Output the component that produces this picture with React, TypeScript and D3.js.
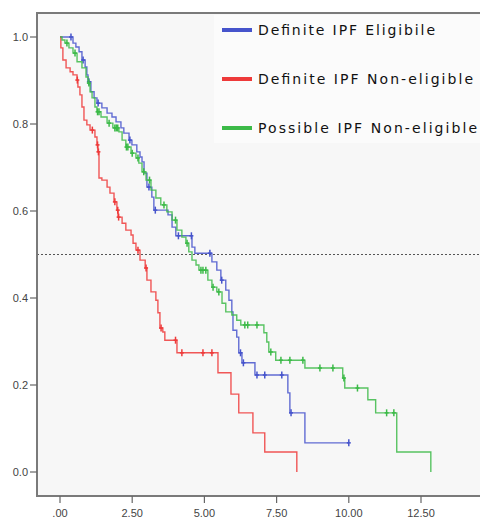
import { useEffect, useRef } from 'react';
import * as d3 from 'd3';

// survival steps: [time, survival after drop]
const redSteps: [number, number][] = [
  [0, 1], [0.03, 0.975], [0.10, 0.947], [0.21, 0.929], [0.35, 0.92], [0.45, 0.913],
  [0.59, 0.901], [0.62, 0.885], [0.69, 0.867], [0.76, 0.839], [0.83, 0.809],
  [0.93, 0.798], [1.04, 0.786], [1.21, 0.77], [1.28, 0.752], [1.31, 0.736],
  [1.35, 0.676], [1.45, 0.671], [1.63, 0.655], [1.73, 0.641], [1.87, 0.621],
  [1.97, 0.602], [2.01, 0.586], [2.15, 0.572], [2.28, 0.556], [2.46, 0.545],
  [2.53, 0.526], [2.63, 0.51], [2.77, 0.487], [2.95, 0.469], [3.01, 0.441],
  [3.15, 0.414], [3.32, 0.395], [3.39, 0.366], [3.46, 0.331], [3.56, 0.322],
  [3.63, 0.303], [4.05, 0.274], [5.47, 0.228], [5.92, 0.179], [6.19, 0.136],
  [6.68, 0.09], [7.09, 0.046], [8.2, 0],
];
const redCensored = [0.6, 1.12, 1.3, 1.33, 1.9, 2.0, 2.03, 2.7, 2.98, 3.5, 4.0, 4.22, 4.95, 5.26];

const blueSteps: [number, number][] = [
  [0, 1], [0.45, 0.986], [0.55, 0.977], [0.66, 0.966], [0.76, 0.947], [0.87, 0.931],
  [0.93, 0.913], [0.97, 0.897], [1.07, 0.874], [1.18, 0.86], [1.28, 0.848],
  [1.45, 0.837], [1.63, 0.825], [1.8, 0.816], [1.94, 0.805], [2.11, 0.791],
  [2.21, 0.779], [2.39, 0.763], [2.49, 0.752], [2.66, 0.736], [2.77, 0.724],
  [2.84, 0.713], [2.91, 0.687], [3.01, 0.655], [3.18, 0.632], [3.25, 0.602],
  [3.74, 0.591], [3.88, 0.563], [4.01, 0.543], [4.57, 0.517], [4.67, 0.503],
  [5.26, 0.483], [5.43, 0.464], [5.57, 0.441], [5.74, 0.418], [5.85, 0.395],
  [5.95, 0.368], [5.99, 0.326], [6.12, 0.31], [6.19, 0.274], [6.3, 0.251],
  [6.75, 0.223], [7.89, 0.182], [7.96, 0.136], [8.48, 0.067], [10.0, 0.067],
];
const blueCensored = [0.38, 0.8, 1.0, 1.32, 2.42, 3.08, 3.3, 4.1, 4.55, 5.19, 5.6, 6.25, 6.35, 6.82, 7.09, 7.68, 8.0, 10.0];

const greenSteps: [number, number][] = [
  [0, 1], [0.07, 0.993], [0.17, 0.986], [0.31, 0.975], [0.45, 0.963], [0.59, 0.943],
  [0.76, 0.929], [0.9, 0.908], [0.97, 0.894], [1.04, 0.874], [1.11, 0.86],
  [1.21, 0.839], [1.28, 0.828], [1.42, 0.816], [1.63, 0.802], [1.83, 0.791],
  [2.04, 0.782], [2.15, 0.763], [2.28, 0.747], [2.46, 0.733], [2.63, 0.722],
  [2.73, 0.71], [2.84, 0.69], [2.98, 0.671], [3.15, 0.648], [3.32, 0.63],
  [3.49, 0.614], [3.7, 0.598], [3.88, 0.579], [4.05, 0.556], [4.22, 0.54],
  [4.36, 0.526], [4.46, 0.506], [4.57, 0.487], [4.71, 0.476], [4.81, 0.464],
  [5.12, 0.441], [5.26, 0.425], [5.43, 0.414], [5.61, 0.388], [5.74, 0.368],
  [5.95, 0.361], [6.12, 0.349], [6.26, 0.338], [7.06, 0.32], [7.16, 0.299],
  [7.23, 0.276], [7.47, 0.257], [8.48, 0.239], [9.79, 0.216], [9.86, 0.193],
  [10.66, 0.166], [10.93, 0.136], [11.66, 0.046], [12.84, 0],
];
const greenCensored = [0.24, 0.52, 1.0, 1.3, 1.35, 1.7, 1.9, 1.95, 2.0, 2.3, 2.35, 2.5, 2.7, 2.9,
  3.1, 3.6, 4.0, 4.4, 4.88, 4.95, 5.05, 5.3, 5.5, 6.4, 6.5, 6.82, 7.3, 7.65, 7.96, 8.41, 9.0, 9.45,
  9.83, 10.3, 11.31, 11.56];

const legendNames = ['Definite IPF Eligibile', 'Definite IPF Non-eligible', 'Possible IPF Non-eligible'];
const legendWidths = [177, 215, 219];
const xTicks = [0, 2.5, 5, 7.5, 10, 12.5];
const xTickLabels = ['.00', '2.50', '5.00', '7.50', '10.00', '12.50'];
const yTicks = [0, 0.2, 0.4, 0.6, 0.8, 1.0];

const series = [
  { name: legendNames[0], steps: blueSteps, censored: blueCensored, color: '#4654cc' },
  { name: legendNames[1], steps: redSteps, censored: redCensored, color: '#ee3a3a' },
  { name: legendNames[2], steps: greenSteps, censored: greenCensored, color: '#3cba48' },
];

export default function App() {
  const svgRef = useRef<SVGSVGElement>(null);

  useEffect(() => {
    const width = 480;
    const height = 520;
    const svg = d3.select(svgRef.current);
    svg.selectAll('*').remove();
    svg.attr('width', width).attr('height', height);

    const x = d3.scaleLinear().domain([0, 12.5]).range([60, 421]);
    const y = d3.scaleLinear().domain([0, 1]).range([472, 37]);

    const left = 37, top = 13, bottom = 496;

    svg.append('rect').attr('width', width).attr('height', height).attr('fill', '#fff');
    svg.append('rect')
      .attr('x', left).attr('y', top)
      .attr('width', width - left + 10).attr('height', bottom - top)
      .attr('fill', '#f7f7f7');

    // legend panel
    svg.append('rect')
      .attr('x', 214).attr('y', 15).attr('width', 270).attr('height', 128)
      .attr('fill', '#fbfbfb');

    // reference line
    svg.append('line')
      .attr('x1', left).attr('x2', width)
      .attr('y1', y(0.5)).attr('y2', y(0.5))
      .attr('stroke', '#555').attr('stroke-width', 1)
      .attr('stroke-dasharray', '2,2');

    const line = d3.line<[number, number]>()
      .x(d => x(d[0]))
      .y(d => y(d[1]))
      .curve(d3.curveStepAfter);

    const survAt = (steps: [number, number][], t: number) => {
      let s = 1;
      for (const st of steps) if (st[0] <= t) s = st[1];
      return s;
    };

    series.forEach(sr => {
      svg.append('path')
        .attr('d', line(sr.steps))
        .attr('fill', 'none')
        .attr('stroke', sr.color)
        .attr('stroke-width', 1.4)
        .attr('stroke-opacity', 0.85);

      const marks = svg.selectAll(null)
        .data(sr.censored)
        .enter()
        .append('g')
        .attr('transform', d => `translate(${x(d)},${y(survAt(sr.steps, d))})`);
      marks.append('line')
        .attr('y1', -3.5).attr('y2', 3.5)
        .attr('stroke', sr.color).attr('stroke-width', 1.5);
      marks.append('line')
        .attr('x1', -2).attr('x2', 2)
        .attr('stroke', sr.color).attr('stroke-width', 1.5);
    });

    // frame
    svg.append('path')
      .attr('d', `M${width + 5},${top}H${left}V${bottom}H${width + 5}`)
      .attr('fill', 'none')
      .attr('stroke', '#7a7a7a')
      .attr('stroke-width', 2);

    // y ticks
    const yg = svg.append('g');
    yTicks.forEach(t => {
      yg.append('line').attr('x1', 30).attr('x2', left).attr('y1', y(t)).attr('y2', y(t))
        .attr('stroke', '#666').attr('stroke-width', 1.2);
      yg.append('text').attr('x', 28).attr('y', y(t)).attr('dy', '0.35em')
        .attr('text-anchor', 'end')
        .attr('font-family', 'Liberation Sans, Arial, sans-serif')
        .attr('font-size', 11).attr('fill', '#444')
        .text(t.toFixed(1));
    });

    // x ticks
    const xg = svg.append('g');
    xTicks.forEach((t, i) => {
      xg.append('line').attr('x1', x(t)).attr('x2', x(t)).attr('y1', bottom).attr('y2', bottom + 7)
        .attr('stroke', '#666').attr('stroke-width', 1.2);
      xg.append('text').attr('x', x(t)).attr('y', 517)
        .attr('text-anchor', 'middle')
        .attr('font-family', 'Liberation Sans, Arial, sans-serif')
        .attr('font-size', 11).attr('fill', '#444')
        .text(xTickLabels[i]);
    });

    // legend
    const legendY = [30, 79, 128];
    series.forEach((sr, i) => {
      svg.append('line')
        .attr('x1', 222).attr('x2', 252)
        .attr('y1', legendY[i]).attr('y2', legendY[i])
        .attr('stroke', sr.color).attr('stroke-width', 4);
      svg.append('text')
        .attr('x', 258).attr('y', legendY[i]).attr('dy', '0.35em')
        .attr('font-family', 'DejaVu Sans, sans-serif')
        .attr('font-size', 14).attr('fill', '#111')
        .attr('textLength', legendWidths[i])
        .attr('lengthAdjust', 'spacing')
        .text(sr.name);
    });
  }, []);

  return (
    <div style={{ position: 'absolute', left: 0, top: 0 }}>
      <svg ref={svgRef}></svg>
    </div>
  );
}
